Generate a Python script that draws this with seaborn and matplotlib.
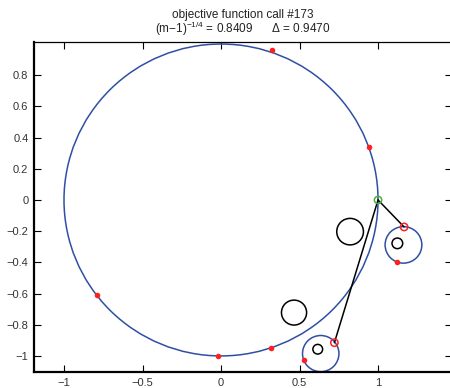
import numpy as np
import pandas as pd
import matplotlib
matplotlib.use("Agg")
import matplotlib.pyplot as plt
from matplotlib.patches import Circle
import seaborn as sns

# ---- data ----
trust_center = (0.0, 0.0)
trust_radius = 1.0
red_pts_x = [0.325, 0.94, -0.79, -0.02, 0.32, 1.12, 0.529]
red_pts_y = [0.96, 0.34, -0.61, -1.0, -0.95, -0.395, -1.026]
green_pt = (1.0, 0.0)
open_red_x = [1.166, 0.722]
open_red_y = [-0.173, -0.915]
small_blue_cx = [1.162, 0.635]
small_blue_cy = [-0.288, -0.985]
small_blue_r = [0.117, 0.116]
black_cx = [0.822, 0.465, 1.123, 0.616]
black_cy = [-0.203, -0.722, -0.278, -0.957]
black_r = [0.085, 0.08, 0.034, 0.031]
xticks = [-1, -0.5, 0, 0.5, 1]
yticks = [-1, -0.8, -0.6, -0.4, -0.2, 0, 0.2, 0.4, 0.6, 0.8]
xtick_labels = ["\u22121", "\u22120.5", "0", "0.5", "1"]
ytick_labels = ["\u22121", "\u22120.8", "\u22120.6", "\u22120.4", "\u22120.2", "0", "0.2", "0.4", "0.6", "0.8"]
title1 = "objective function call #173"
title2 = r"(m$-$1)$^{-1/4}$ = 0.8409      $\Delta$ = 0.9470"

sns.set_style("ticks")
plt.rcParams['font.family'] = ['Liberation Sans', 'DejaVu Sans']
plt.rcParams['mathtext.fontset'] = 'custom'
plt.rcParams['mathtext.rm'] = 'Liberation Sans'
plt.rcParams['mathtext.it'] = 'Liberation Sans'

fig = plt.figure(figsize=(4.5, 3.88), dpi=100)
ax = fig.add_axes([34/450, 16/388, 418/450, 330/388])

blue = "#2e4fa3"
ax.add_patch(Circle(trust_center, trust_radius, fill=False, ec=blue, lw=1.1))
for cx, cy, r in zip(small_blue_cx, small_blue_cy, small_blue_r):
    ax.add_patch(Circle((cx, cy), r, fill=False, ec=blue, lw=1.1))
for cx, cy, r in zip(black_cx, black_cy, black_r):
    ax.add_patch(Circle((cx, cy), r, fill=False, ec="black", lw=1.1))

for ox, oy in zip(open_red_x, open_red_y):
    ax.plot([green_pt[0], ox], [green_pt[1], oy], color="black", lw=1.1)

df = pd.DataFrame({"x": red_pts_x, "y": red_pts_y})
sns.scatterplot(data=df, x="x", y="y", ax=ax, color="#ff1f1f", s=16, edgecolor="#ff1f1f", linewidth=0, zorder=5)
ax.scatter(open_red_x, open_red_y, s=28, facecolors="none", edgecolors="#ff1f1f", linewidths=1.1, zorder=6)
ax.scatter([green_pt[0]], [green_pt[1]], s=28, facecolors="none", edgecolors="#4caf3f", linewidths=1.1, zorder=6)

ax.set_xlim(-1.191, 1.471)
ax.set_ylim(-1.103, 1.013)
ax.set_xticks(xticks)
ax.set_xticklabels(xtick_labels)
ax.set_yticks(yticks)
ax.set_yticklabels(ytick_labels)
ax.set_xlabel("")
ax.set_ylabel("")
ax.tick_params(direction="in", top=True, right=True, length=5, width=0.8, labelsize=8, colors="black", labelcolor="#333333", pad=4)
for name, s in ax.spines.items():
    s.set_color("black")
    s.set_visible(True)
    s.set_linewidth(1.6 if name in ("left", "bottom") else 0.9)

fig.text(243/450, 1 - 15/388, title1, ha="center", va="center", fontsize=8.5, color="#222222")
fig.text(243/450, 1 - 29/388, title2, ha="center", va="center", fontsize=8.5, color="#222222")

fig.savefig("out.png", dpi=100)
